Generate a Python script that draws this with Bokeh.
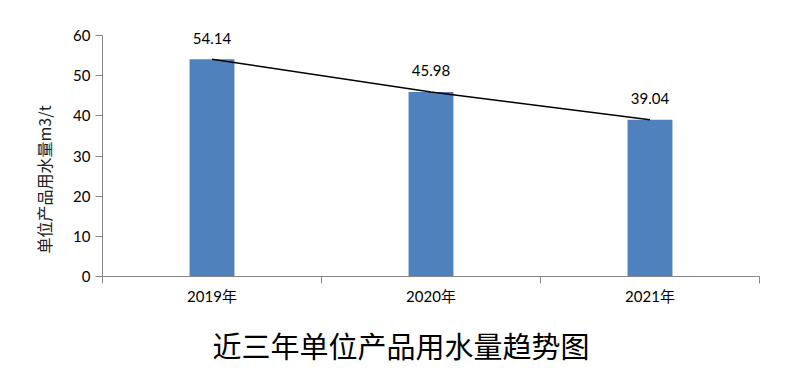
from bokeh.plotting import figure
from bokeh.models import Range1d, FixedTicker, Title, ColumnDataSource, LabelSet
from bokeh.core.properties import value
from bokeh.embed import file_html
from bokeh.resources import INLINE

categories = ["2019年", "2020年", "2021年"]
usage = [54.14, 45.98, 39.04]
label_texts = ["54.14", "45.98", "39.04"]
y_ticks = [0, 10, 20, 30, 40, 50, 60]
y_max = 60
y_title = "单位产品用水量m3/t"
chart_title = "近三年单位产品用水量趋势图"

xs = [i + 0.5 for i in range(len(categories))]
src = ColumnDataSource(dict(x=xs, y=usage, t=label_texts))

LATIN = "Lato, 'Noto Sans CJK SC'"

p = figure(width=795, height=384, output_backend="svg", toolbar_location=None,
           x_range=Range1d(0, len(categories)), y_range=Range1d(0, 67.5),
           min_border_left=102, min_border_right=36, min_border_top=5, min_border_bottom=108)
p.outline_line_color = None
p.xgrid.visible = False
p.ygrid.visible = False

p.vbar(x="x", top="y", width=0.205, source=src, color="#4F81BD", line_color=None)
p.line(x="x", y="y", source=src, line_color="black", line_width=1.5)
labels = LabelSet(x="x", y="y", text="t", source=src, text_align="center", text_baseline="middle",
                  y_offset=21, text_font=value("Lato"), text_font_size="15px", text_color="black")
p.add_layout(labels)

ax = p.xaxis[0]
ax.ticker = FixedTicker(ticks=xs, minor_ticks=list(range(len(categories) + 1)))
ax.major_label_overrides = {x: c for x, c in zip(xs, categories)}
ax.major_tick_out = 0
ax.major_tick_in = 0
ax.minor_tick_out = 7
ax.minor_tick_in = 0
ax.minor_tick_line_color = "#868686"
ax.axis_line_color = "#868686"
ax.major_label_standoff = 3
ax.major_label_text_font = LATIN
ax.major_label_text_font_size = "15px"
ax.major_label_text_color = "black"

ay = p.yaxis[0]
ay.bounds = (0, y_max)
ay.ticker = FixedTicker(ticks=y_ticks)
ay.major_tick_out = 7
ay.major_tick_in = 0
ay.minor_tick_out = 0
ay.minor_tick_in = 0
ay.axis_line_color = "#868686"
ay.major_tick_line_color = "#868686"
ay.major_label_standoff = 5
ay.major_label_text_font = LATIN
ay.major_label_text_font_size = "15px"
ay.major_label_text_color = "black"

ylab = Title(text=y_title, align="left", offset=23, vertical_align="bottom",
             text_font="Noto Sans CJK SC", text_font_size="16px", text_font_style="normal",
             text_color="#202020", standoff=30)
p.add_layout(ylab, "left")

t = Title(text=chart_title, align="left", offset=110, vertical_align="top",
          text_font="Noto Sans CJK SC", text_font_size="29px", text_font_style="normal",
          text_color="black", standoff=33)
p.add_layout(t, "below")

open("out.html", "w").write(file_html(p, INLINE))
